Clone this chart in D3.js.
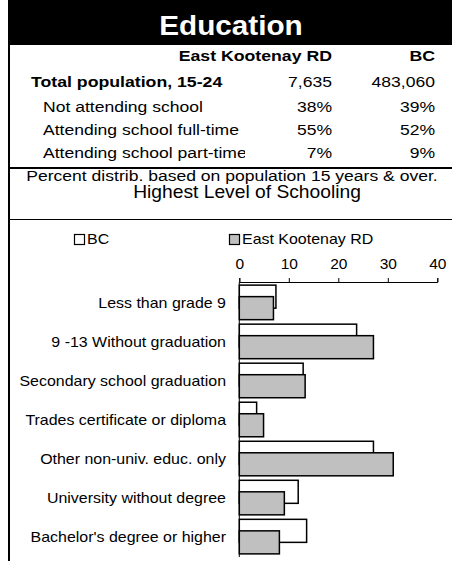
<!DOCTYPE html>
<html>
<head>
<meta charset="utf-8">
<script src="https://cdn.jsdelivr.net/npm/d3@7"></script>
<style>
  body { margin: 0; background: #fff; }
  svg { display: block; font-family: Arial, "Liberation Sans", sans-serif; }
</style>
</head>
<body>
<div class="chart"></div>
<script>
// table data
var regionNames = ["East Kootenay RD", "BC"];
var totalPop = ["7,635", "483,060"];
var rowLabels = ["Not attending school", "Attending school full-time", "Attending school part-time"];
var rowEK = ["38%", "55%", "7%"];
var rowBC = ["39%", "52%", "9%"];

// chart data (percent)
var categories = ["Less than grade 9", "9 -13 Without graduation", "Secondary school graduation",
  "Trades certificate or diploma", "Other non-univ. educ. only", "University without degree",
  "Bachelor's degree or higher"];
var bcValues = [7.4, 23.7, 12.9, 3.5, 27.1, 11.9, 13.6];
var ekValues = [6.9, 27.1, 13.3, 4.9, 31.1, 9.1, 8.1];
var xTicks = [0, 10, 20, 30, 40];

var W = 452, H = 561;
var svg = d3.select(".chart").append("svg").attr("width", W).attr("height", H);

// the source picture is stretched sideways, so text gets a small x scale
function txt(parent, x, y, s, size, sx, anchor, bold) {
  return parent.append("text")
    .attr("transform", "translate(" + x + "," + y + ") scale(" + sx + ",1)")
    .attr("text-anchor", anchor || "start")
    .style("font-size", size + "px")
    .style("font-weight", bold ? "bold" : "normal")
    .text(s);
}

// header band
svg.append("rect").attr("x", 8).attr("y", 0).attr("width", W - 8).attr("height", 45).attr("fill", "#000");
txt(svg, 231, 35, "Education", 27, 1.1, "middle", true).attr("fill", "#fff");

// left border + separators
svg.append("rect").attr("x", 8).attr("y", 0).attr("width", 2).attr("height", H).attr("fill", "#000");
svg.append("rect").attr("x", 8).attr("y", 167).attr("width", W - 8).attr("height", 2).attr("fill", "#000");
svg.append("rect").attr("x", 8).attr("y", 219).attr("width", W - 8).attr("height", 1).attr("fill", "#000");

var colX = [332, 435];
var fs = 15, sxT = 1.17;

// column heads
regionNames.forEach(function (n, i) {
  txt(svg, colX[i], 61, n, fs, 1.18, "end", true);
});

txt(svg, 31, 87, "Total population, 15-24", fs, 1.18, "start", true);
totalPop.forEach(function (v, i) {
  txt(svg, colX[i], 87, v, fs, sxT, "end");
});

// clip the row labels like the original cell does
svg.append("clipPath").attr("id", "cellclip").append("rect")
  .attr("x", 10).attr("y", 90).attr("width", 235).attr("height", 75);
var rowLab = svg.append("g").attr("clip-path", "url(#cellclip)");

var rowY = [112, 135, 158];
rowLabels.forEach(function (t, i) {
  txt(rowLab, 43, rowY[i], t, fs, sxT);
  txt(svg, colX[0], rowY[i], rowEK[i], fs, sxT, "end");
  txt(svg, colX[1], rowY[i], rowBC[i], fs, sxT, "end");
});

txt(svg, 232, 181, "Percent distrib. based on population 15 years & over.", fs, sxT, "middle");
txt(svg, 247, 198, "Highest Level of Schooling", 17.5, 1.1, "middle");

// legend
var legend = [
  { name: "BC", fill: "#fff", x: 74 },
  { name: "East Kootenay RD", fill: "#c0c0c0", x: 229 }
];
legend.forEach(function (l) {
  svg.append("rect").attr("x", l.x + 0.5).attr("y", 234.5).attr("width", 10).attr("height", 10)
    .attr("fill", l.fill).attr("stroke", "#000").attr("stroke-width", 1.2);
  txt(svg, l.x + 13, 244, l.name, 14, 1.14);
});

// scales
var x = d3.scaleLinear().domain([0, 40]).range([239.3, 437.3]);
var y = d3.scaleBand().domain(categories).range([282, 557]).paddingInner(0.115).paddingOuter(0.08);
var bh = y.bandwidth() * 2 / 3;

svg.append("g").attr("transform", "translate(0,282)")
  .call(d3.axisTop(x).tickValues(xTicks).tickSize(4).tickSizeOuter(4).tickPadding(9))
  .call(function (g) {
    g.selectAll("text").style("font-size", "15.5px").attr("fill", "#000");
    g.selectAll("line,path").attr("stroke", "#000");
  });

// category axis line
svg.append("line").attr("x1", x(0)).attr("x2", x(0)).attr("y1", 282).attr("y2", 557)
  .attr("stroke", "#000").attr("stroke-width", 1);

// bars, BC behind, EK on top
svg.selectAll(".bc").data(categories).enter().append("rect")
  .attr("class", "bc")
  .attr("x", x(0)).attr("y", function (d) { return y(d); })
  .attr("width", function (d, i) { return x(bcValues[i]) - x(0); })
  .attr("height", bh)
  .attr("fill", "#fff").attr("stroke", "#000").attr("stroke-width", 1.5);

svg.selectAll(".ek").data(categories).enter().append("rect")
  .attr("class", "ek")
  .attr("x", x(0)).attr("y", function (d) { return y(d) + y.bandwidth() / 3; })
  .attr("width", function (d, i) { return x(ekValues[i]) - x(0); })
  .attr("height", bh)
  .attr("fill", "#c0c0c0").attr("stroke", "#000").attr("stroke-width", 1.5);

// category labels
categories.forEach(function (c) {
  txt(svg, 226, y(c) + y.bandwidth() / 2 + 5.5, c, 14, 1.14, "end");
});
</script>
</body>
</html>
